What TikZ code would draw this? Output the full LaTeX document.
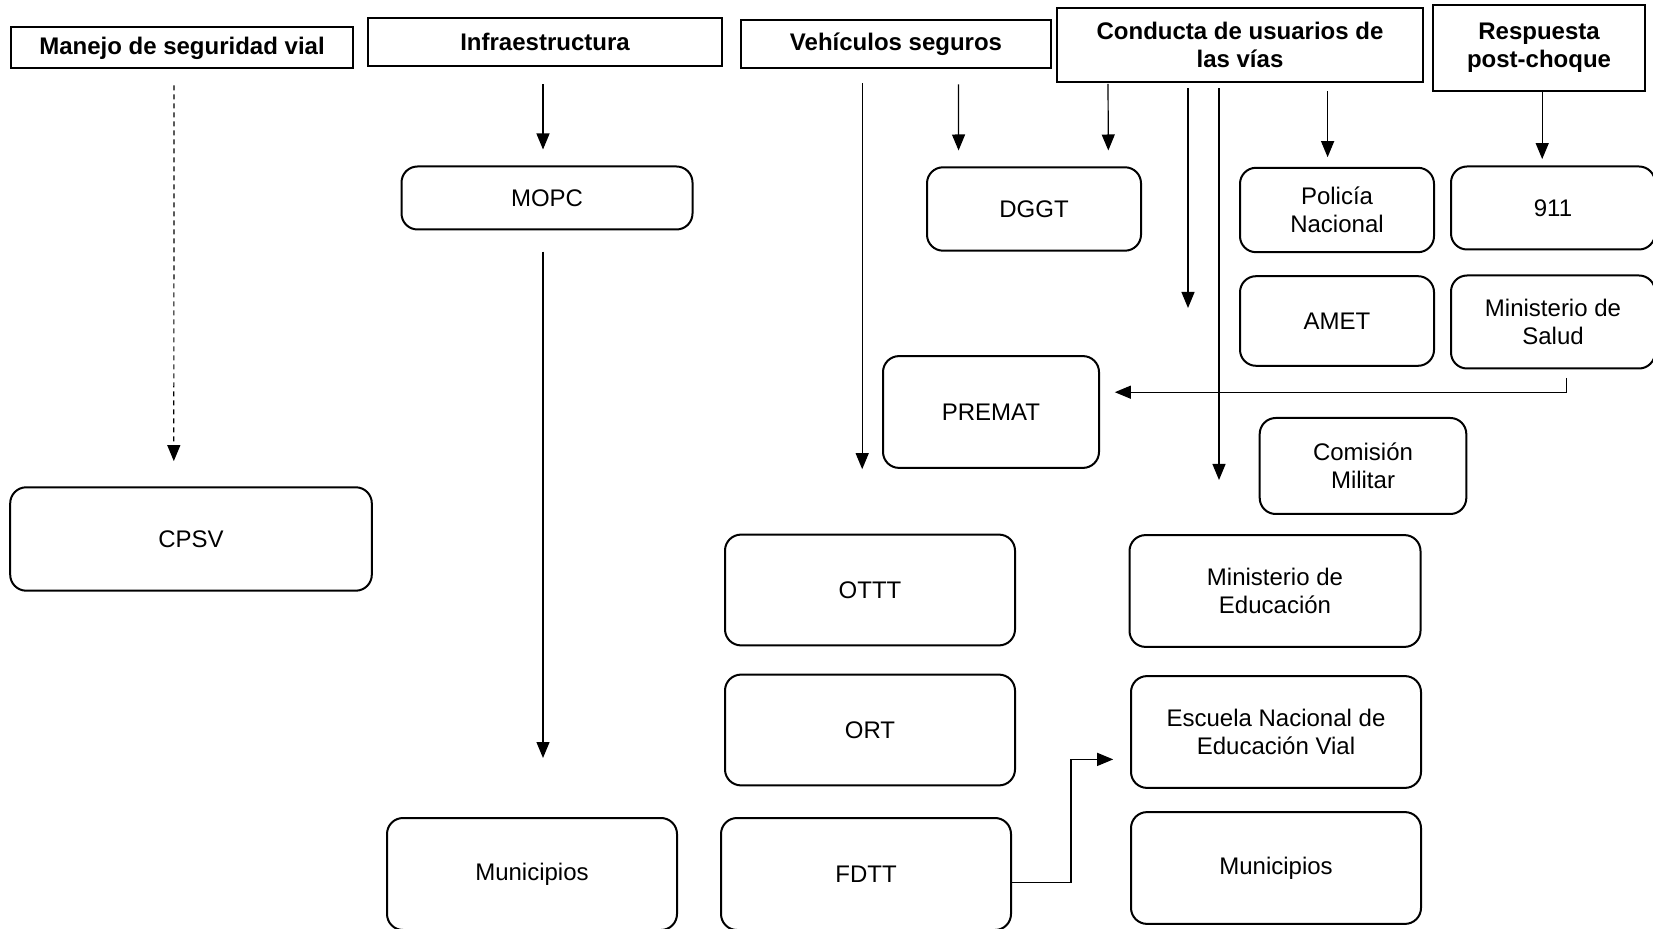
\documentclass[tikz,border=0pt]{standalone}
\usepackage{fontspec}
\setmainfont{Liberation Sans}
\usetikzlibrary{arrows.meta}

\tikzset{
  header/.style={draw, line width=1pt, align=center, inner sep=0pt,
    font=\fontsize{12pt}{13.8pt}\selectfont\bfseries},
  agency/.style={draw, line width=1pt, rounded corners=8pt, align=center, inner sep=0pt,
    font=\fontsize{12pt}{13.8pt}\selectfont},
  arr/.style={-{Triangle[width=6.5pt,length=8pt]}, line width=0.6pt}
}

\begin{document}
\begin{tikzpicture}[x=0.5pt, y=-0.5pt]
    \useasboundingbox (0,0) rectangle (1653,929);

    % Header boxes
    \node[header, minimum width=171.3pt, minimum height=20.5pt] (hManejo) at (182,48) {Manejo de seguridad vial};
    \node[header, minimum width=177pt, minimum height=24.2pt] (hInfra) at (545,42) {Infraestructura};
    \node[header, minimum width=155pt, minimum height=23.7pt] (hVeh) at (896,44) {Vehículos seguros};
    \node[header, minimum width=183pt, minimum height=37pt] (hConducta) at (1240,45) {Conducta de usuarios de\\las vías};
    \node[header, minimum width=106pt, minimum height=42.7pt] (hRespuesta) at (1539,48) {Respuesta\\post-choque};

    % Agencies
    \node[agency, minimum width=145.5pt, minimum height=31.5pt] (mopc) at (547,198) {MOPC};
    \node[agency, minimum width=107pt, minimum height=41.7pt] (dggt) at (1034,209) {DGGT};
    \node[agency, minimum width=97pt, minimum height=42.2pt] (policia) at (1337,210) {Policía\\Nacional};
    \node[agency, minimum width=102pt, minimum height=41.5pt] (nueve) at (1553,208) {911};
    \node[agency, minimum width=97pt, minimum height=44.8pt] (amet) at (1337,321) {AMET};
    \node[agency, minimum width=102pt, minimum height=46.5pt] (salud) at (1553,322) {Ministerio de\\Salud};
    \node[agency, minimum width=108pt, minimum height=55.9pt] (premat) at (991,412) {PREMAT};
    \node[agency, minimum width=103.3pt, minimum height=48pt] (comision) at (1363,466) {Comisión\\Militar};
    \node[agency, minimum width=180.8pt, minimum height=51.7pt] (cpsv) at (191,539) {CPSV};
    \node[agency, minimum width=145pt, minimum height=55.4pt] (ottt) at (870,590) {OTTT};
    \node[agency, minimum width=145.5pt, minimum height=55.9pt] (mined) at (1275,591) {Ministerio de\\Educación};
    \node[agency, minimum width=145pt, minimum height=55.4pt] (ort) at (870,730) {ORT};
    \node[agency, minimum width=145pt, minimum height=55.9pt] (escuela) at (1276,732) {Escuela Nacional de\\Educación Vial};
    \node[agency, minimum width=145pt, minimum height=56pt] (munL) at (532,874) {Municipios};
    \node[agency, minimum width=145pt, minimum height=56pt] (fdtt) at (866,874) {FDTT};
    \node[agency, minimum width=145pt, minimum height=55.9pt] (munR) at (1276,868) {Municipios};

    % Free arrow ends
    \coordinate (cLeft) at (1188,308);
    \coordinate (cRight) at (1219,480);

    % Connectors
    \draw[arr, dashed, dash pattern=on 2.5pt off 2pt, shorten <=7.9pt, shorten >=12.6pt]
        ([xshift=-4pt]hManejo.south) -- ([xshift=-8.6pt]cpsv.north);
    \draw[arr, shorten <=8.5pt, shorten >=8pt] ([xshift=-1pt]hInfra.south) -- ([xshift=-2pt]mopc.north);
    \draw[arr, shorten <=10.6pt, shorten >=29.5pt] ([xshift=-2pt]mopc.south) -- ([xshift=5.5pt]munL.north);
    \draw[arr, shorten <=7.3pt, shorten >=32.2pt] ([xshift=-16.9pt]hVeh.south) -- ([xshift=-3.9pt]ottt.north);
    \draw[arr, shorten <=7.9pt, shorten >=7.9pt] ([xshift=31.2pt]hVeh.south) -- ([xshift=-37.7pt]dggt.north);
    \draw[arr, shorten <=0.5pt, shorten >=7.9pt] ([xshift=-66pt]hConducta.south) -- ([xshift=37.2pt]dggt.north);
    \draw[arr, shorten <=2.6pt] (hConducta.south -| cLeft) -- (cLeft);
    \draw[arr, shorten <=2.6pt] (hConducta.south -| cRight) -- (cRight);
    \draw[arr, shorten <=4.2pt, shorten >=4.8pt] ([xshift=-4.7pt]policia.north |- hConducta.south) -- ([xshift=-4.7pt]policia.north);
    \draw[arr, shorten >=3.2pt] ([xshift=1.6pt]hRespuesta.south) -- ([xshift=1.6pt]hRespuesta.south |- nueve.north);
    \draw[arr] ([xshift=6.9pt,yshift=-4.2pt]salud.south) |- ([xshift=7.4pt,yshift=9.9pt]premat.east);
    \draw[arr] ([yshift=-4.2pt]fdtt.east) -- ++(29.5pt,0) |- ([xshift=-8.4pt,yshift=-13.7pt]escuela.west);
\end{tikzpicture}
\end{document}
